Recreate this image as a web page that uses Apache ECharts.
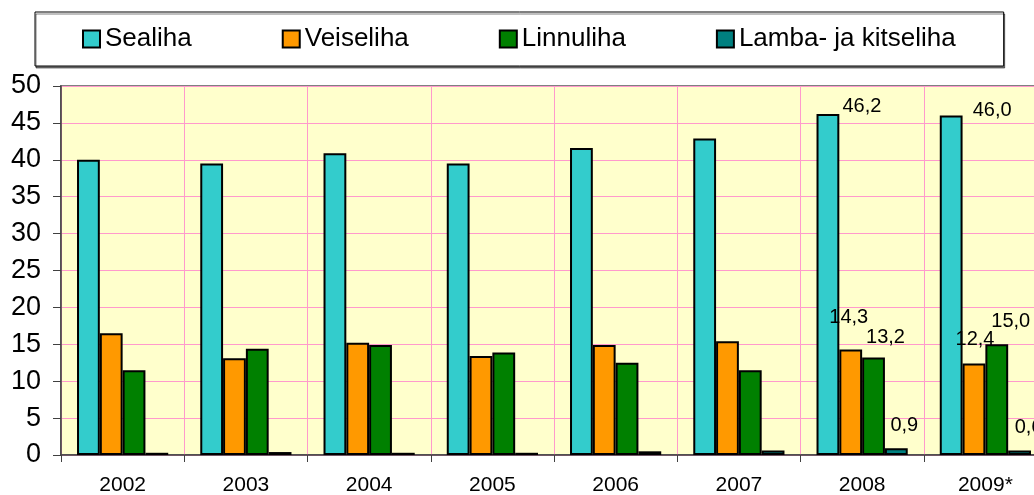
<!DOCTYPE html>
<html>
<head>
<meta charset="utf-8">
<script src="https://cdn.jsdelivr.net/npm/echarts@6/dist/echarts.min.js"></script>
<style>
  html, body { margin: 0; padding: 0; background: #fff; overflow: hidden; }
  #chart { width: 1050px; height: 495px; }
</style>
</head>
<body>
<div id="chart"></div>
<script>
// aastad
var years = ['2002', '2003', '2004', '2005', '2006', '2007', '2008', '2009*'];
var seriesNames = ['Sealiha', 'Veiseliha', 'Linnuliha', 'Lamba- ja kitseliha'];
var sealiha = [40.0, 39.5, 40.9, 39.5, 41.6, 42.9, 46.2, 46.0];
var veiseliha = [16.5, 13.1, 15.2, 13.4, 14.9, 15.4, 14.3, 12.4];
var linnuliha = [11.5, 14.4, 14.9, 13.9, 12.5, 11.5, 13.2, 15.0];
var lambaliha = [0.3, 0.4, 0.3, 0.3, 0.5, 0.6, 0.9, 0.6];
var yTicks = [0, 5, 10, 15, 20, 25, 30, 35, 40, 45, 50];

var colors = ['#33CCCC', '#FF9900', '#008000', '#008080'];
var font = '"Liberation Sans", Arial, sans-serif';

// label offsets for the labelled years (2008, 2009), per series
var labelOffsets = [
  {6: [34, 2], 7: [41, 5]},
  {6: [-2, -22], 7: [1, -14]},
  {6: [12, -10], 7: [14, -13]},
  {6: [8, -13], 7: [9, -13]}
];

function fmt(v) {
  return v.toFixed(1).replace('.', ',');
}

function makeData(values, offsets) {
  return values.map(function(v, i) {
    if (!offsets[i]) return v;
    return {
      value: v,
      label: {
        show: true,
        position: 'top',
        distance: 0,
        offset: offsets[i],
        formatter: function(p) { return fmt(p.value); },
        color: '#000',
        fontSize: 20,
        fontFamily: font
      }
    };
  });
}

var allValues = [sealiha, veiseliha, linnuliha, lambaliha];
var series = allValues.map(function(vals, k) {
  return {
    name: seriesNames[k],
    type: 'bar',
    barGap: '0%',
    barCategoryGap: '26%',
    itemStyle: {
      color: colors[k],
      borderColor: '#000',
      borderWidth: 2
    },
    data: makeData(vals, labelOffsets[k])
  };
});

var chart = echarts.init(document.getElementById('chart'), null, {renderer: 'canvas'});
chart.setOption({
  animation: false,
  color: colors,
  textStyle: { fontFamily: font, color: '#000' },
  legend: {
    data: seriesNames,
    left: 35,
    top: 12,
    padding: [14, 48, 14, 47],
    itemGap: 90,
    itemWidth: 17,
    itemHeight: 17,
    icon: 'rect',
    borderColor: '#000',
    borderWidth: 1,
    backgroundColor: '#fff',
    shadowColor: 'rgba(0,0,0,0.5)',
    shadowOffsetX: 1,
    shadowOffsetY: 2,
    itemStyle: { borderColor: '#000', borderWidth: 2 },
    textStyle: { fontSize: 26, color: '#000', fontFamily: font }
  },
  grid: {
    left: 61,
    top: 86,
    right: 3,
    bottom: 40,
    outerBoundsMode: 'none',
    show: true,
    backgroundColor: '#FFFFCC',
    borderColor: '#808080',
    borderWidth: 2
  },
  xAxis: {
    type: 'category',
    data: years,
    axisLine: { lineStyle: { color: '#404040', width: 1.5 } },
    axisTick: { show: true, length: 7, lineStyle: { color: '#404040' } },
    splitLine: { show: true, lineStyle: { color: '#FF99CC', width: 1 } },
    axisLabel: { fontSize: 21, color: '#000', margin: 20, fontFamily: font }
  },
  yAxis: {
    type: 'value',
    min: yTicks[0],
    max: yTicks[yTicks.length - 1],
    interval: 5,
    axisLine: { show: true, lineStyle: { color: '#404040', width: 1.5 } },
    axisTick: { show: true, length: 8, lineStyle: { color: '#404040' } },
    splitLine: { show: true, lineStyle: { color: '#FF99CC', width: 1 } },
    axisLabel: { fontSize: 27, color: '#000', margin: 20, fontFamily: font }
  },
  series: series
});
</script>
</body>
</html>
